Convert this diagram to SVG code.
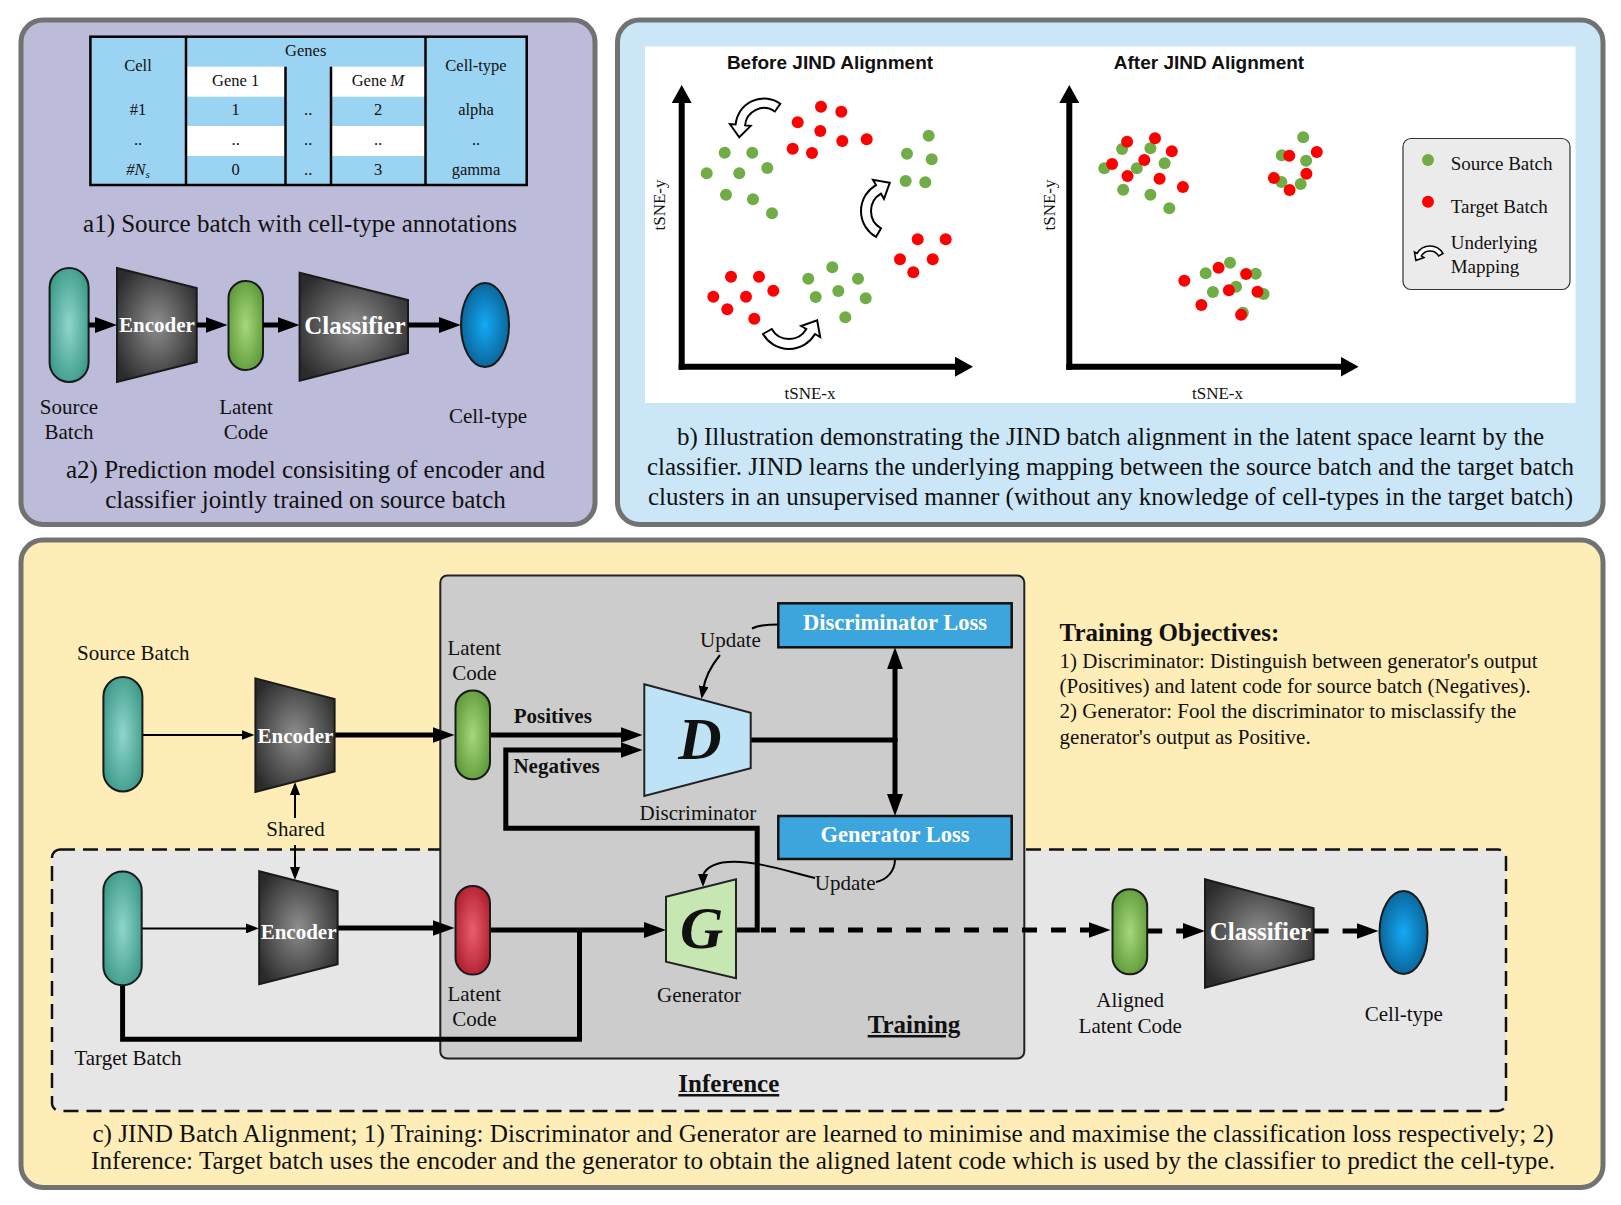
<svg xmlns="http://www.w3.org/2000/svg" width="1621" height="1205" viewBox="0 0 1621 1205">
<defs>
<style>
 .cap{font-family:"Liberation Serif","Times New Roman",serif;font-size:25px;text-anchor:middle;fill:#111;}
 .lbl{font-family:"Liberation Serif","Times New Roman",serif;font-size:21px;text-anchor:middle;fill:#111;}
 .tbl{font-family:"Liberation Serif","Times New Roman",serif;font-size:16.5px;text-anchor:middle;fill:#111;}
 .leg{font-family:"Liberation Serif","Times New Roman",serif;font-size:19px;fill:#111;}
 .ax{font-family:"Liberation Serif","Times New Roman",serif;font-size:17px;text-anchor:middle;fill:#111;}
 .obj{font-family:"Liberation Serif","Times New Roman",serif;font-size:21px;fill:#111;}
 .bold{font-weight:bold;}
 .wb{font-family:"Liberation Serif","Times New Roman",serif;font-weight:bold;fill:#fff;text-anchor:middle;}
 .ttl{font-family:"Liberation Sans",Arial,sans-serif;font-weight:bold;font-size:19px;text-anchor:middle;fill:#111;}
 .big{font-family:"Liberation Serif","Times New Roman",serif;font-weight:bold;font-style:italic;font-size:60px;text-anchor:middle;fill:#111;}
 .sect{font-family:"Liberation Serif","Times New Roman",serif;font-weight:bold;font-size:25px;text-anchor:middle;fill:#111;text-decoration:underline;}
 .panel{stroke:#727272;stroke-width:5;}
 .node{stroke:#1a1a1a;stroke-width:2;}
 .thick{fill:none;stroke:#000;stroke-width:5;}
 .thin{fill:none;stroke:#000;stroke-width:2;}
 .axis{fill:none;stroke:#000;stroke-width:6;}
 .dash{fill:none;stroke:#000;stroke-width:5;stroke-dasharray:15 14;}
 .g{fill:#70ad47;} .r{fill:#ff0000;}
 .curl{fill:#fff;stroke:#000;stroke-width:2;}
 .loss{fill:#3ca5dd;stroke:#111;stroke-width:2.5;}
</style>
<radialGradient id="gTeal" cx="0.5" cy="0.5" r="0.6"><stop offset="0" stop-color="#8fd6cb"/><stop offset="1" stop-color="#3a9886"/></radialGradient>
<radialGradient id="gGreen" cx="0.5" cy="0.5" r="0.6"><stop offset="0" stop-color="#a8d67c"/><stop offset="1" stop-color="#5a9836"/></radialGradient>
<radialGradient id="gRed" cx="0.5" cy="0.5" r="0.6"><stop offset="0" stop-color="#ea5f6e"/><stop offset="1" stop-color="#ad1b2c"/></radialGradient>
<radialGradient id="gBlue" cx="0.5" cy="0.5" r="0.6"><stop offset="0" stop-color="#14a9f5"/><stop offset="1" stop-color="#085a8a"/></radialGradient>
<radialGradient id="gDark" cx="0.5" cy="0.5" r="0.6"><stop offset="0" stop-color="#8e8e8e"/><stop offset="1" stop-color="#2b2b2b"/></radialGradient>
<marker id="mBig" markerUnits="userSpaceOnUse" markerWidth="22" markerHeight="16" refX="8" refY="8" orient="auto"><path d="M0,0 L22,8 L0,16 Z" fill="#000"/></marker>
<marker id="mSm" markerUnits="userSpaceOnUse" markerWidth="13" markerHeight="10" refX="4" refY="5" orient="auto"><path d="M0,0 L13,5 L0,10 Z" fill="#000"/></marker>
<marker id="mAx" markerUnits="userSpaceOnUse" markerWidth="18" markerHeight="20" refX="6" refY="10" orient="auto"><path d="M0,0 L18,10 L0,20 Z" fill="#000"/></marker>
<path id="curlShape" d="M25.98,-15 A30,30 0 0 0 -25.98,-15 L-31.18,-18 L-28.15,-1.24 L-12.12,-7 L-17.32,-10 A20,20 0 0 1 17.32,-10 Z"/>
</defs>

<!-- Panel backgrounds -->
<rect x="0" y="0" width="1621" height="1205" fill="#ffffff"/>
<g id="panel-a">
<rect class="panel" x="21" y="20" width="574" height="504.5" rx="22" fill="#bcbbd9"/>
</g>
<g id="panel-b">
<rect class="panel" x="617.5" y="20" width="985.5" height="504.5" rx="22" fill="#cbe7f7"/>
<rect x="645" y="46.5" width="930.5" height="356.5" fill="#ffffff"/>
</g>
<g id="panel-c">
<rect class="panel" x="21" y="540" width="1582" height="647.5" rx="22" fill="#ffedb8"/>
</g>

<!-- Table a1 -->
<g id="table">
<rect x="90.4" y="36.7" width="436.3" height="148.3" fill="#9bd3f2"/>
<rect x="186" y="66.7" width="99.5" height="30" fill="#fff"/>
<rect x="331" y="66.7" width="94.5" height="30" fill="#fff"/>
<rect x="186" y="126" width="99.5" height="30" fill="#fff"/>
<rect x="331" y="126" width="94.5" height="30" fill="#fff"/>
<g stroke="#000" stroke-width="2.5" fill="none">
<rect x="90.4" y="36.7" width="436.3" height="148.3"/>
<line x1="186" y1="36.7" x2="186" y2="185"/>
<line x1="425.5" y1="36.7" x2="425.5" y2="185"/>
<line x1="285.5" y1="66.7" x2="285.5" y2="185"/>
<line x1="331" y1="66.7" x2="331" y2="185"/>
</g>
<text class="tbl" x="138" y="71">Cell</text>
<text class="tbl" x="305.7" y="56">Genes</text>
<text class="tbl" x="476" y="71">Cell-type</text>
<text class="tbl" x="235.7" y="86">Gene 1</text>
<text class="tbl" x="378" y="86">Gene <tspan font-style="italic">M</tspan></text>
<text class="tbl" x="138" y="115">#1</text>
<text class="tbl" x="235.7" y="115">1</text>
<text class="tbl" x="308.2" y="115">..</text>
<text class="tbl" x="378" y="115">2</text>
<text class="tbl" x="476" y="115">alpha</text>
<text class="tbl" x="138" y="145">..</text>
<text class="tbl" x="235.7" y="145">..</text>
<text class="tbl" x="308.2" y="145">..</text>
<text class="tbl" x="378" y="145">..</text>
<text class="tbl" x="476" y="145">..</text>
<text class="tbl" x="138" y="174.5" font-style="italic">#N<tspan style="font-size:11px" dy="3">s</tspan></text>
<text class="tbl" x="235.7" y="174.5">0</text>
<text class="tbl" x="308.2" y="174.5">..</text>
<text class="tbl" x="378" y="174.5">3</text>
<text class="tbl" x="476" y="174.5">gamma</text>
</g>
<text class="cap" x="300" y="232">a1) Source batch with cell-type annotations</text>

<!-- Panel a2 nodes -->
<g id="a-source">
<rect class="node" x="49.6" y="268" width="39" height="114" rx="19.5" fill="url(#gTeal)"/>
<text class="lbl" x="69" y="414">Source</text>
<text class="lbl" x="69" y="439">Batch</text>
</g>
<g id="a-encoder">
<polygon class="node" points="117,268 196.7,288 196.7,362 117,382" fill="url(#gDark)"/>
<text class="wb" x="157" y="332" font-size="21">Encoder</text>
</g>
<g id="a-latent">
<rect class="node" x="228.5" y="281" width="34.5" height="89" rx="17" fill="url(#gGreen)"/>
<text class="lbl" x="246" y="414">Latent</text>
<text class="lbl" x="246" y="439">Code</text>
</g>
<g id="a-classifier">
<polygon class="node" points="299.6,272.7 408,300 408,353 299.6,380.7" fill="url(#gDark)"/>
<text class="wb" x="355" y="334" font-size="25">Classifier</text>
</g>
<g id="a-celltype">
<ellipse class="node" cx="485" cy="325" rx="24" ry="42" fill="url(#gBlue)"/>
<text class="lbl" x="488" y="423">Cell-type</text>
</g>
<g id="a-connectors">
<path class="thick" d="M88.5,325 H103" marker-end="url(#mBig)"/>
<path class="thick" d="M196.7,325 H213.5" marker-end="url(#mBig)"/>
<path class="thick" d="M263,325 H285.6" marker-end="url(#mBig)"/>
<path class="thick" d="M408,325 H446.7" marker-end="url(#mBig)"/>
</g>
<text class="cap" x="305.5" y="478">a2) Prediction model consisiting of encoder and</text>
<text class="cap" x="305.5" y="508">classifier jointly trained on source batch</text>

<!-- Panel b plots -->
<g id="before-plot">
<text class="ttl" x="830" y="68.5">Before JIND Alignment</text>
<path class="axis" d="M681.7,369.7 V97" marker-end="url(#mAx)"/>
<path class="axis" d="M678.7,366.7 H961" marker-end="url(#mAx)"/>
<text class="ax" x="810" y="399">tSNE-x</text>
<text class="ax" transform="translate(665,205) rotate(-90)">tSNE-y</text>
<g class="r">
<circle cx="821" cy="106.7" r="6"/><circle cx="841.3" cy="111.7" r="6"/><circle cx="797.7" cy="122.3" r="6"/><circle cx="820.3" cy="131" r="6"/><circle cx="842.3" cy="141" r="6"/><circle cx="866.7" cy="139.3" r="6"/><circle cx="792.7" cy="148.7" r="6"/><circle cx="812" cy="153" r="6"/>
<circle cx="917.7" cy="239.3" r="6"/><circle cx="945.7" cy="239.3" r="6"/><circle cx="900" cy="259.3" r="6"/><circle cx="932.7" cy="259.3" r="6"/><circle cx="913.3" cy="272.3" r="6"/>
<circle cx="731" cy="276.7" r="6"/><circle cx="759" cy="276.7" r="6"/><circle cx="713.3" cy="296.7" r="6"/><circle cx="746" cy="296.7" r="6"/><circle cx="773.3" cy="290.7" r="6"/><circle cx="727.3" cy="309.3" r="6"/><circle cx="754.3" cy="318.7" r="6"/>
</g>
<g class="g">
<circle cx="724.7" cy="152.7" r="6"/><circle cx="752.3" cy="152.7" r="6"/><circle cx="706.7" cy="173.3" r="6"/><circle cx="739.3" cy="173.3" r="6"/><circle cx="767.3" cy="168" r="6"/><circle cx="726" cy="194.7" r="6"/><circle cx="753" cy="199.3" r="6"/><circle cx="772" cy="213.3" r="6"/>
<circle cx="928.7" cy="135.7" r="6"/><circle cx="907" cy="153.7" r="6"/><circle cx="931.7" cy="159.3" r="6"/><circle cx="905.7" cy="181" r="6"/><circle cx="925.3" cy="182.3" r="6"/>
<circle cx="832.3" cy="267.3" r="6"/><circle cx="808.3" cy="278.7" r="6"/><circle cx="858" cy="278.7" r="6"/><circle cx="815.7" cy="297" r="6"/><circle cx="838.3" cy="291" r="6"/><circle cx="865.7" cy="298.3" r="6"/><circle cx="845.3" cy="317.3" r="6"/>
</g>
<use href="#curlShape" class="curl" transform="translate(764,127) rotate(-25) scale(0.95)"/>
<use href="#curlShape" class="curl" transform="matrix(0,1,1,0,891,211)"/>
<use href="#curlShape" class="curl" transform="translate(789,319) rotate(180)"/>
</g>

<g id="after-plot">
<text class="ttl" x="1209" y="68.5">After JIND Alignment</text>
<path class="axis" d="M1069.3,369.7 V97" marker-end="url(#mAx)"/>
<path class="axis" d="M1066.3,366.7 H1346.6" marker-end="url(#mAx)"/>
<text class="ax" x="1217.5" y="399">tSNE-x</text>
<text class="ax" transform="translate(1055,205) rotate(-90)">tSNE-y</text>
<g class="g">
<circle cx="1122.1" cy="149" r="6"/><circle cx="1150.4" cy="148.3" r="6"/><circle cx="1104.3" cy="168.3" r="6"/><circle cx="1136.8" cy="168.3" r="6"/><circle cx="1164.6" cy="163.3" r="6"/><circle cx="1123.2" cy="189.7" r="6"/><circle cx="1150.4" cy="194.7" r="6"/><circle cx="1169.3" cy="208.3" r="6"/>
<circle cx="1303.2" cy="137.3" r="6"/><circle cx="1281.8" cy="155.3" r="6"/><circle cx="1306.1" cy="160.7" r="6"/><circle cx="1281.4" cy="182" r="6"/><circle cx="1300.7" cy="184" r="6"/>
<circle cx="1230" cy="262.7" r="6"/><circle cx="1205.7" cy="273.3" r="6"/><circle cx="1255.7" cy="273.7" r="6"/><circle cx="1212.9" cy="292" r="6"/><circle cx="1236.1" cy="286.7" r="6"/><circle cx="1263.6" cy="294" r="6"/><circle cx="1242.9" cy="312.7" r="6"/>
</g>
<g class="r">
<circle cx="1127.1" cy="141.7" r="6"/><circle cx="1155" cy="138.3" r="6"/><circle cx="1171.8" cy="151.3" r="6"/><circle cx="1112.1" cy="164" r="6"/><circle cx="1144.3" cy="160" r="6"/><circle cx="1127.5" cy="176" r="6"/><circle cx="1159.6" cy="178.7" r="6"/><circle cx="1182.9" cy="187" r="6"/>
<circle cx="1289.3" cy="155.7" r="6"/><circle cx="1316.8" cy="152" r="6"/><circle cx="1273.9" cy="178" r="6"/><circle cx="1306.4" cy="173.7" r="6"/><circle cx="1289.6" cy="190" r="6"/>
<circle cx="1184.3" cy="280.7" r="6"/><circle cx="1218.6" cy="267.7" r="6"/><circle cx="1246.1" cy="274" r="6"/><circle cx="1228.9" cy="290.3" r="6"/><circle cx="1257.5" cy="291.7" r="6"/><circle cx="1201.4" cy="305" r="6"/><circle cx="1241.1" cy="314.7" r="6"/>
</g>
</g>

<g id="legend">
<rect x="1403" y="138.5" width="167" height="151" rx="8" fill="#ebebeb" stroke="#333" stroke-width="1.2"/>
<circle class="g" cx="1428" cy="160" r="6"/>
<circle class="r" cx="1428" cy="201.7" r="6"/>
<use href="#curlShape" class="curl" style="stroke-width:3" transform="translate(1430,261) scale(0.5)"/>
<text class="leg" x="1450.7" y="169.5">Source Batch</text>
<text class="leg" x="1450.7" y="213">Target Batch</text>
<text class="leg" x="1450.7" y="249">Underlying</text>
<text class="leg" x="1450.7" y="273">Mapping</text>
</g>

<text class="cap" x="1110.5" y="445">b) Illustration demonstrating the JIND batch alignment in the latent space learnt by the</text>
<text class="cap" x="1110.5" y="475">classifier. JIND learns the underlying mapping between the source batch and the target batch</text>
<text class="cap" x="1110.5" y="505">clusters in an unsupervised manner (without any knowledge of cell-types in the target batch)</text>

<!-- Panel c boxes -->
<g id="inference-box">
<rect x="52" y="849.5" width="1454" height="261.5" rx="8" fill="#e6e6e6" stroke="#111" stroke-width="2.5" stroke-dasharray="15 8"/>
<text class="sect" x="728.8" y="1092">Inference</text>
</g>
<g id="training-box">
<rect x="440.3" y="575.5" width="584" height="483" rx="7" fill="#cccccc" stroke="#222" stroke-width="2"/>
<text class="sect" x="914" y="1033">Training</text>
</g>

<g id="objectives">
<text class="obj bold" x="1059.6" y="641" style="font-size:25px">Training Objectives:</text>
<text class="obj" x="1059.6" y="668">1) Discriminator: Distinguish between generator's output</text>
<text class="obj" x="1059.6" y="693">(Positives) and latent code for source batch (Negatives).</text>
<text class="obj" x="1059.6" y="718">2) Generator: Fool the discriminator to misclassify the</text>
<text class="obj" x="1059.6" y="743.5">generator's output as Positive.</text>
</g>

<!-- Panel c connectors -->
<g id="connectors">
<path class="thin" d="M142.5,735 H245.5" marker-end="url(#mSm)"/>
<path class="thick" d="M334.6,735 H440.5" marker-end="url(#mBig)"/>
<path class="thin" d="M295,818 V791" marker-end="url(#mSm)"/>
<path class="thin" d="M295,845 V871" marker-end="url(#mSm)"/>
<path class="thin" d="M141.7,928.4 H250" marker-end="url(#mSm)"/>
<path class="thick" d="M337.6,928 H440.5" marker-end="url(#mBig)"/>
<path class="thick" d="M122.6,985 V1039.3 H579.5 V930"/>
<path class="thick" d="M490,930 H652" marker-end="url(#mBig)"/>
<path class="thick" d="M490,735 H628.5" marker-end="url(#mBig)"/>
<path class="thick" d="M736,930 H757.2 V828.3 H505.8 V750 H628.5" marker-end="url(#mBig)"/>
<path class="thick" d="M750.7,740 H895"/>
<path class="thick" d="M895,742 V661.3" marker-end="url(#mBig)"/>
<path class="thick" d="M895,738 V802" marker-end="url(#mBig)"/>
<path class="thin" d="M778.3,624.5 C768,624.5 758,625.5 752,628.5"/>
<path class="thin" d="M720,655 Q706,672 703,690" marker-end="url(#mSm)"/>
<path class="thin" d="M895,859 C895,872 886,880 876,882"/>
<path class="thin" d="M815,878 C790,872 755,860 728,862 C712,863 703,870 703,878" marker-end="url(#mSm)"/>
<path class="dash" d="M761,930 H1096.6" marker-end="url(#mBig)"/>
<path class="dash" d="M1147.2,931 H1191" marker-end="url(#mBig)"/>
<path class="dash" d="M1313.6,931 H1364.5" marker-end="url(#mBig)"/>
</g>

<!-- Panel c nodes -->
<g id="c-source">
<rect class="node" x="103.4" y="677" width="39" height="114.4" rx="19.5" fill="url(#gTeal)"/>
<text class="lbl" x="133.3" y="660">Source Batch</text>
</g>
<g id="c-encoder-top">
<polygon class="node" points="255.4,678.4 334.6,699 334.6,771.4 255.4,792" fill="url(#gDark)"/>
<text class="wb" x="295.5" y="742.5" font-size="21">Encoder</text>
</g>
<text class="lbl" x="295.5" y="836">Shared</text>
<g id="c-target">
<rect class="node" x="103.4" y="871.6" width="38.3" height="113.6" rx="19" fill="url(#gTeal)"/>
<text class="lbl" x="128" y="1065">Target Batch</text>
</g>
<g id="c-encoder-bottom">
<polygon class="node" points="259.2,871.3 337.6,891.2 337.6,964.2 259.2,984.2" fill="url(#gDark)"/>
<text class="wb" x="298.6" y="939" font-size="21">Encoder</text>
</g>
<g id="c-latent-source">
<rect class="node" x="455.5" y="690.5" width="34.5" height="88.8" rx="17" fill="url(#gGreen)"/>
<text class="lbl" x="474.3" y="654.5">Latent</text>
<text class="lbl" x="474.3" y="679.5">Code</text>
</g>
<g id="c-latent-target">
<rect class="node" x="455.5" y="886" width="34.5" height="88.6" rx="17" fill="url(#gRed)"/>
<text class="lbl" x="474.3" y="1001">Latent</text>
<text class="lbl" x="474.3" y="1026">Code</text>
</g>
<text class="lbl bold" x="513.7" y="723" style="text-anchor:start">Positives</text>
<text class="lbl bold" x="513.4" y="773" style="text-anchor:start">Negatives</text>
<g id="c-discriminator">
<polygon points="644.3,684.3 750.7,712.7 750.7,768.3 644.3,796" fill="#bfe3f6" stroke="#222" stroke-width="2"/>
<text class="big" x="699.8" y="759">D</text>
<text class="lbl" x="697.9" y="820">Discriminator</text>
</g>
<g id="c-generator">
<polygon points="666,896.7 736,879.3 736,978.3 666,961.7" fill="#c6e7b1" stroke="#222" stroke-width="2"/>
<text class="big" x="701.7" y="948">G</text>
<text class="lbl" x="699" y="1002">Generator</text>
</g>
<g id="c-disc-loss">
<rect class="loss" x="778.3" y="603.3" width="233.4" height="44"/>
<text class="wb" x="895" y="630" font-size="22.5">Discriminator Loss</text>
</g>
<g id="c-gen-loss">
<rect class="loss" x="778.3" y="816" width="233.4" height="43"/>
<text class="wb" x="895" y="842" font-size="22.5">Generator Loss</text>
</g>
<text class="lbl" x="730.4" y="647">Update</text>
<text class="lbl" x="845.2" y="890">Update</text>
<g id="c-aligned">
<rect class="node" x="1112.5" y="889.3" width="34.7" height="85" rx="17" fill="url(#gGreen)"/>
<text class="lbl" x="1130.2" y="1007">Aligned</text>
<text class="lbl" x="1130.2" y="1033">Latent Code</text>
</g>
<g id="c-classifier">
<polygon class="node" points="1205,879.3 1313.6,908.3 1313.6,959 1205,987.7" fill="url(#gDark)"/>
<text class="wb" x="1260.4" y="940" font-size="25">Classifier</text>
</g>
<g id="c-celltype">
<ellipse class="node" cx="1403.5" cy="932.5" rx="24" ry="41.5" fill="url(#gBlue)"/>
<text class="lbl" x="1403.8" y="1021">Cell-type</text>
</g>

<text class="cap" x="823" y="1142" style="font-size:25.2px">c) JIND Batch Alignment; 1) Training: Discriminator and Generator are learned to minimise and maximise the classification loss respectively; 2)</text>
<text class="cap" x="823" y="1169" style="font-size:25.2px">Inference: Target batch uses the encoder and the generator to obtain the aligned latent code which is used by the classifier to predict the cell-type.</text>
</svg>
